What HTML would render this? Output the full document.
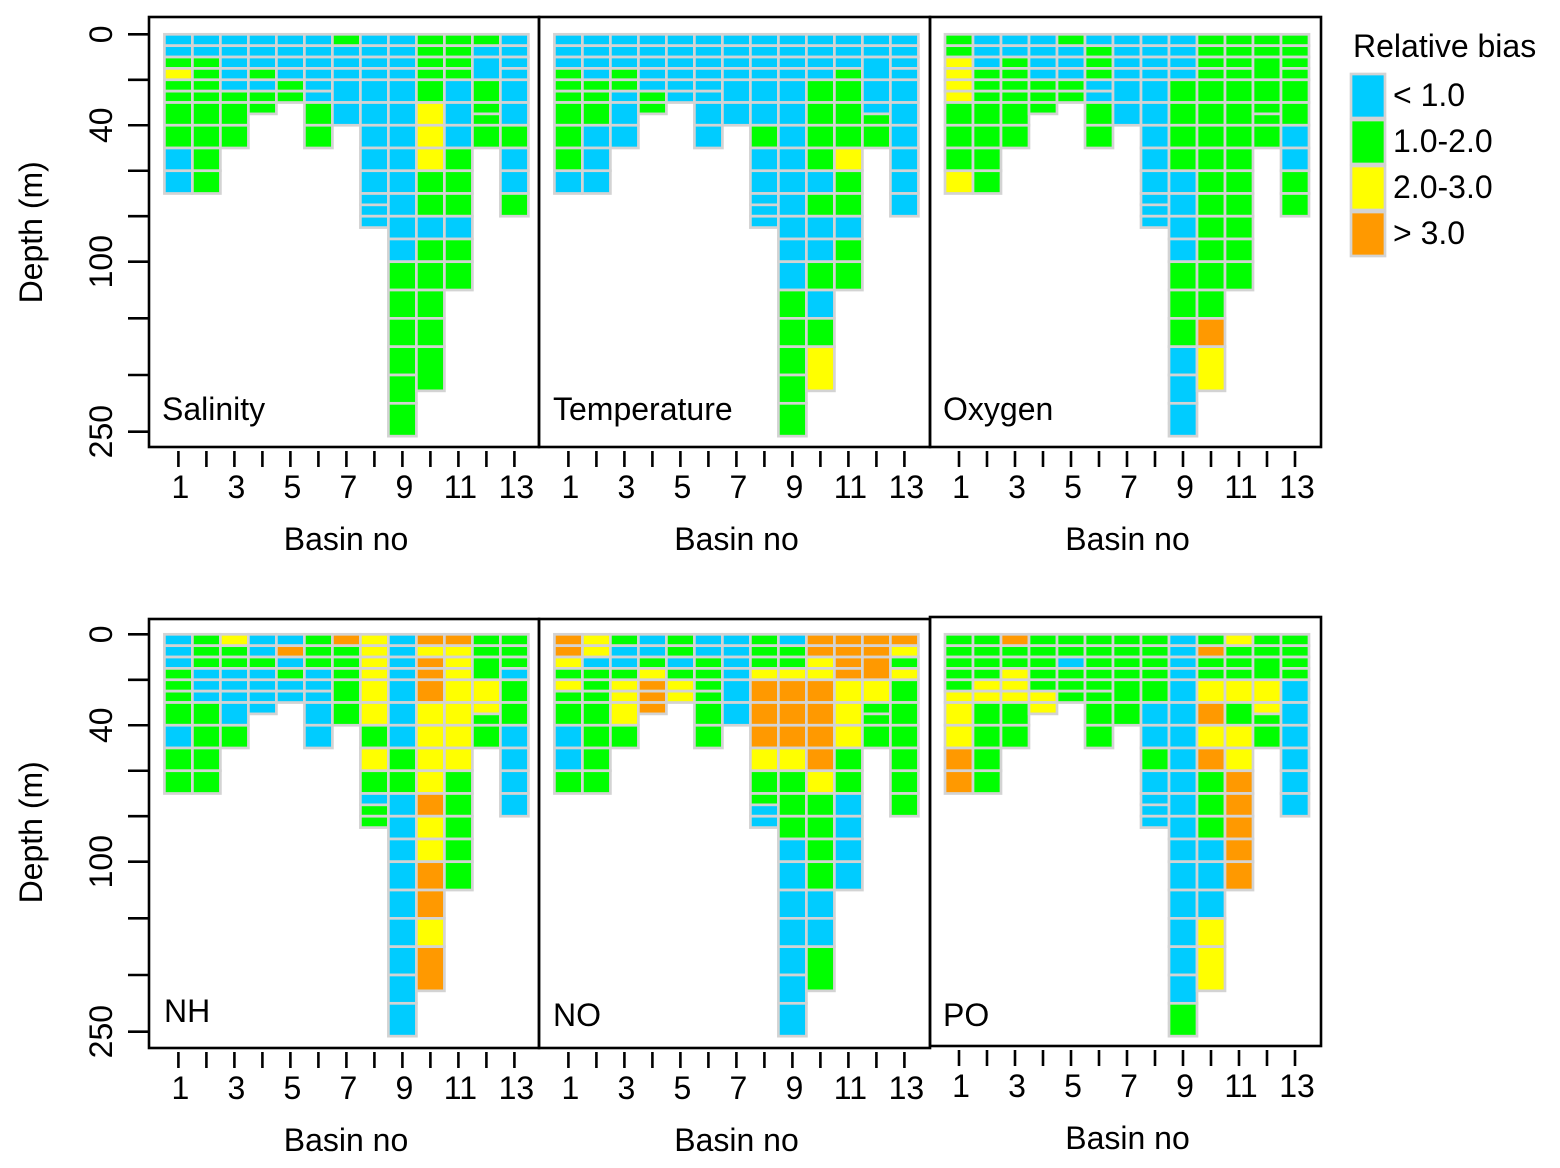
<!DOCTYPE html>
<html><head><meta charset="utf-8"><style>
html,body{margin:0;padding:0;background:#fff;}
svg{display:block;font-family:"Liberation Sans",Arial,sans-serif;}
</style></head><body>
<svg id="chart" width="1560" height="1168" viewBox="0 0 1560 1168" xmlns="http://www.w3.org/2000/svg">
<g id="legend">
<text x="1353" y="57" font-size="32">Relative bias</text>
</g>
</svg>
<script>
// Basins (x categories)
const basins = [1,2,3,4,5,6,7,8,9,10,11,12,13];
// Layer boundaries (depth in m) for each basin
const layerBounds = [
 [0,5,10,15,20,25,30,40,50,60,70],
 [0,5,10,15,20,25,30,40,50,60,70],
 [0,5,10,15,20,25,30,40,50],
 [0,5,10,15,20,25,30,35],
 [0,5,10,15,20,25,30],
 [0,5,10,15,20,25,30,40,50],
 [0,5,10,15,20,30,40],
 [0,5,10,15,20,30,40,50,60,70,75,80,85],
 [0,5,10,15,20,30,40,50,60,70,80,90,100,125,150,175,200,225,254],
 [0,5,10,15,20,30,40,50,60,70,80,90,100,125,150,175,214],
 [0,5,10,15,20,30,40,50,60,70,80,90,100,125],
 [0,5,10,20,30,35,40,50],
 [0,5,10,15,20,30,40,50,60,70,80]
];
// Bias class per layer: B <1.0, G 1.0-2.0, Y 2.0-3.0, O >3.0
const salinity = ["BBGYGGGGBB","BBGGGGGGGG","BBBBBGGG","BBBGBGG","BBBBGG","BBBBBBGG","GBBBBB","BBBBBBBBBBBB","BBBBBBBBBBBBGGGGGG","GGGGGYYYGGBGGGGG","GGGGBBBGGGBGG","GBBGGGG","BBBBBBGBBG"];
const temperature = ["BBBGGGGGGB","BBBBGGGBBB","BBBGGBBB","BBBBBGG","BBBBBB","BBBBBBBB","BBBBBB","BBBBBBGBBBBB","BBBBBBBBBBBBBGGGGG","BBBBGGGGBGBBGBGY","BBBGGGGYGGBGG","BBBBBGG","BBBBBBBBBB"];
const oxygen = ["GGYYYYGGGY","BBBGGGGGGG","BBGGGGGG","BBBBGGG","GBBBGG","BGGGBBGG","BBBBBB","BBBBBBBBBBBB","BBBBGGGGBBBBGGGBBB","GGGGGGGGGGGGGGOY","GGGGGGGGGGGGG","GGGGGGG","GGGGGGBBGG"];
const nh = ["BBBGGGGBGG","GGGBBBGGGG","YGGBBBBG","BBGBBBB","BOBGBB","GGGBBBBB","OGGGGG","YYYYYYGYGBGG","BBBBBBBGGBBBBBBBBB","OYOOOYYYYOYYOOYO","OYYYYYYYGGGGG","GGGYYGG","GGGBGGBBBB"];
const no = ["OOYGYGGBBG","YYBGGGGGGG","GBBGYYYG","BBGYOOO","GGBGYY","BBGGGGGG","BBBBBB","GGGYOOOYGGBB","BGGYOOOYGGGBBBBBBB","OOYYOOOOYGGGGBBG","OOOOYYYGGBBBB","OOOYGGG","OYGYGGGGGG"];
const po = ["GGGGGYYYOO","GGGGYYGGGG","OGGYYYGG","GGGGGYY","GGBGGG","GGGGGGGG","GGGGGG","GGGGGBBGBBBB","BBBBBBBBBBBBBBBBBG","GOGGYOYOGGGBBBYY","YGGGYGYYOOOOO","GGGYYGG","GGGGBBBBBB"];
const panelNames = ["Salinity","Temperature","Oxygen","NH","NO","PO"];
const yTicks = [0,20,40,60,80,100,150,200,250];
const yTickLabels = ["0","","40","","","100","","","250"];
const xTickLabels = ["1","","3","","5","","7","","9","","11","","13"];
const legendLabels = ["< 1.0","1.0-2.0","2.0-3.0","> 3.0"];
const legendClasses = ["B","G","Y","O"];

const COLORS = {B:"#00CCFF",G:"#00FF00",Y:"#FFFF00",O:"#FF9900"};
const NS = "http://www.w3.org/2000/svg";
const svg = document.getElementById("chart");
function mk(tag, attrs, parent){ const e=document.createElementNS(NS,tag); for(const k in attrs) e.setAttribute(k,attrs[k]); (parent||svg).appendChild(e); return e; }

const FS = 32;
const panels = [
 {data:salinity, px:149, py:17, pw:390, ph:430, gx:164.4, top:34.3, lab:[162,420]},
 {data:temperature, px:539, py:17, pw:391, ph:430, gx:554.4, top:34.3, lab:[553,420]},
 {data:oxygen, px:930, py:17, pw:391, ph:430, gx:945, top:34.3, lab:[943,420]},
 {data:nh, px:149, py:619, pw:390, ph:429, gx:164.4, top:634.3, lab:[164,1022]},
 {data:no, px:539, py:619, pw:391, ph:429, gx:554.4, top:634.3, lab:[553,1026]},
 {data:po, px:930, py:617, pw:391, ph:429, gx:945, top:634.3, lab:[943,1026]}
];
const COLW = 28;
function yScale(top, d){ return top + (d<=100 ? d*2.274 : 227.4 + (d-100)*1.133); }
function xScale(gx, b){ return gx + (b-1)*COLW; }

panels.forEach((p, pi) => {
  const g = mk("g", {});
  
  
  basins.forEach((b, bi) => {
    const bounds = layerBounds[bi];
    const cls = p.data[bi];
    for (let k=0;k<bounds.length-1;k++){
      const y0 = yScale(p.top, bounds[k]), y1 = yScale(p.top, bounds[k+1]);
      const x0 = xScale(p.gx, b);
      const r = mk("rect", {x:x0, y:y0, width:COLW, height:y1-y0, fill:COLORS[cls[k]], stroke:"#D3D3D3", "stroke-width":2.7}, g);
      
      
    }
  });
  const box = mk("rect", {x:p.px, y:p.py, width:p.pw, height:p.ph, fill:"none", stroke:"#000", "stroke-width":2.6});
  
  
  const t = mk("text", {x:p.lab[0], y:p.lab[1], "font-size":FS});
  t.textContent = panelNames[pi];
  
  
  const axY = p.py + p.ph;
  basins.forEach((b, bi) => {
    const cx = xScale(p.gx, b) + COLW/2;
    const tk = mk("line", {x1:cx, x2:cx, y1:axY+4, y2:axY+20, stroke:"#000", "stroke-width":2.6});
    
    
    if (xTickLabels[bi]) {
      const tl = mk("text", {x:cx+2, y:axY+51, "font-size":FS, "text-anchor":"middle"});
      tl.textContent = xTickLabels[bi];
      
      
    }
  });
  const xt = mk("text", {x:p.px+p.pw/2+2, y:axY+103, "font-size":FS, "text-anchor":"middle"});
  xt.textContent = "Basin no";
  
  
  if (pi===0 || pi===3) {
    yTicks.forEach((d, i) => {
      const yy = yScale(p.top, d);
      const tk = mk("line", {x1:128, x2:149, y1:yy, y2:yy, stroke:"#000", "stroke-width":2.6});
      
      
      if (yTickLabels[i]) {
        const tl = mk("text", {x:0, y:0, "font-size":FS, "text-anchor":"middle", transform:`translate(112,${yy}) rotate(-90)`});
        tl.textContent = yTickLabels[i];
        
        
      }
    });
    const yt = mk("text", {x:0, y:0, "font-size":FS, "text-anchor":"middle", transform:`translate(42,${p.top+198}) rotate(-90)`});
    yt.textContent = "Depth (m)";
    
    
  }
});

const lg = document.getElementById("legend");
legendLabels.forEach((lab, i) => {
  const y0 = 74 + i*46;
  const r = mk("rect", {x:1351, y:y0, width:34, height:44, fill:COLORS[legendClasses[i]], stroke:"#D3D3D3", "stroke-width":2.7}, lg);
  
  
  const t = mk("text", {x:1393, y:y0+32, "font-size":FS}, lg);
  t.textContent = lab;
  
  
});
</script>
</body></html>
